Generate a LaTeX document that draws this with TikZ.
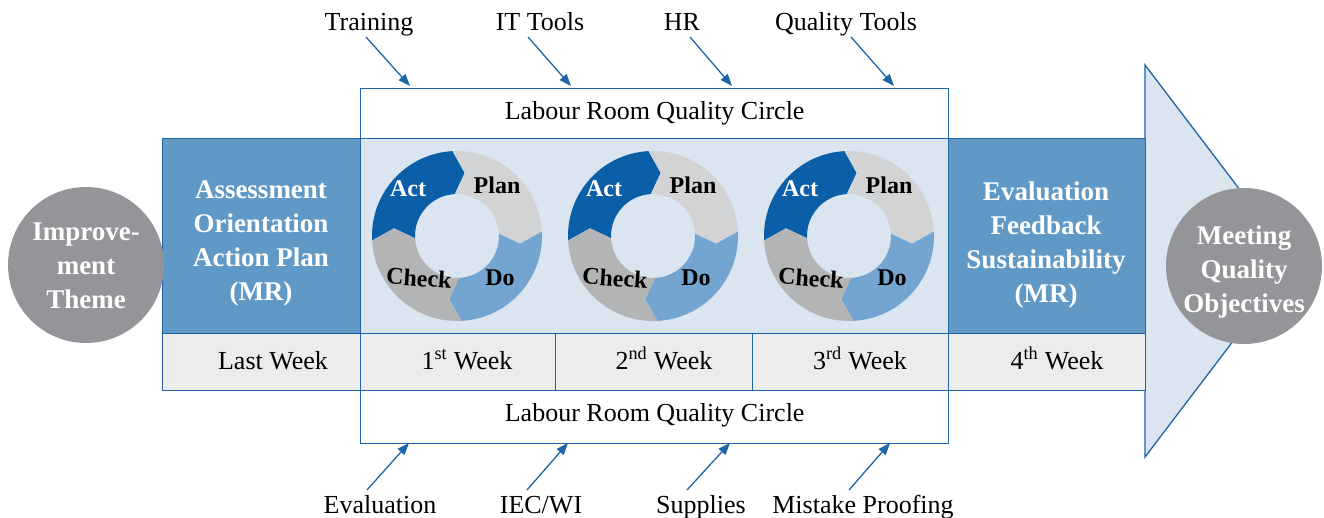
\documentclass[tikz,border=0pt]{standalone}
\usepackage{fontspec}
\setmainfont{Liberation Serif}
\usetikzlibrary{arrows.meta}
\definecolor{bordblue}{HTML}{1F64A8}
\definecolor{midblue}{HTML}{6199C6}
\definecolor{lightblue}{HTML}{DAE5F0}
\definecolor{rowgray}{HTML}{EBECEC}
\definecolor{circgray}{HTML}{939598}
\definecolor{actblue}{HTML}{0B5EA8}
\definecolor{plangray}{HTML}{D2D3D5}
\definecolor{doblue}{HTML}{74A4D0}
\definecolor{checkgray}{HTML}{B3B4B6}
\tikzset{
  frame/.style={draw=bordblue, line width=1.3pt},
  lab/.style={font=\fontsize{26}{30}\selectfont, inner sep=0pt, anchor=base},
  boxlab/.style={font=\fontsize{26}{30}\selectfont, inner sep=0pt},
  boldw/.style={font=\fontsize{27}{34}\selectfont\bfseries, text=white, align=center, inner sep=0pt},
  pdcalab/.style={font=\fontsize{24}{28}\selectfont\bfseries, inner sep=0pt},
  arr/.style={draw=bordblue, line width=1.3pt, -{Triangle[length=12pt,width=9pt]}},
  bigcirc/.style={circle, fill=circgray, minimum size=156pt, inner sep=0pt},
  pdca/.pic={
    \begin{scope}[y=1pt]
      \def\R{85}\def\r{42}\def\m{63.5}
      \fill[actblue]   (183:\R) arc[start angle=183, end angle=93, radius=\R] -- (83:\m) -- (93:\r) arc[start angle=93, end angle=183, radius=\r] -- (173:\m) -- cycle;
      \fill[plangray]  (93:\R) arc[start angle=93, end angle=3, radius=\R] -- (-7:\m) -- (3:\r) arc[start angle=3, end angle=93, radius=\r] -- (83:\m) -- cycle;
      \fill[doblue]    (3:\R) arc[start angle=3, end angle=-87, radius=\R] -- (-97:\m) -- (-87:\r) arc[start angle=-87, end angle=3, radius=\r] -- (-7:\m) -- cycle;
      \fill[checkgray] (-87:\R) arc[start angle=-87, end angle=-177, radius=\R] -- (-187:\m) -- (-177:\r) arc[start angle=-177, end angle=-87, radius=\r] -- (-97:\m) -- cycle;
      \node[pdcalab, text=white] (-act) at (-49,47) {Act};
      \node[pdcalab] (-plan) at (40,51) {Plan};
      \node[pdcalab] (-do) at (43,-42) {Do};
      \node[pdcalab, rotate=-4] (-check) at (-38,-42) {Check};
    \end{scope}
  }
}
\begin{document}
\begin{tikzpicture}[x=1pt, y=-1pt]
\useasboundingbox (0,0) rectangle (1324,518);
% arrow head
\draw[frame, fill=lightblue] (1145,65) -- (1294,261) -- (1145,457) -- cycle;
% body
\node[frame, fill=midblue, minimum width=198pt, minimum height=195pt, anchor=north west, inner sep=0pt] (leftbox) at (162,138) {};
\node[frame, fill=lightblue, minimum width=588pt, minimum height=195pt, anchor=north west, inner sep=0pt] (midbox) at (360,138) {};
\node[frame, fill=midblue, minimum width=197pt, minimum height=195pt, anchor=north west, inner sep=0pt] (rightbox) at (948,138) {};
% week row
\node[frame, fill=rowgray, minimum width=198pt, minimum height=57pt, anchor=north west, inner sep=0pt] (w0) at (162,333) {};
\node[frame, fill=rowgray, minimum width=195pt, minimum height=57pt, anchor=north west, inner sep=0pt] (w1) at (360,333) {};
\node[frame, fill=rowgray, minimum width=197pt, minimum height=57pt, anchor=north west, inner sep=0pt] (w2) at (555,333) {};
\node[frame, fill=rowgray, minimum width=196pt, minimum height=57pt, anchor=north west, inner sep=0pt] (w3) at (752,333) {};
\node[frame, fill=rowgray, minimum width=197pt, minimum height=57pt, anchor=north west, inner sep=0pt] (w4) at (948,333) {};
\node[lab] (t0) at (273,369) {Last Week};
\node[lab] (t1) at (467,369) {1\textsuperscript{st} Week};
\node[lab] (t2) at (664,369) {2\textsuperscript{nd} Week};
\node[lab] (t3) at (860,369) {3\textsuperscript{rd} Week};
\node[lab] (t4) at (1057,369) {4\textsuperscript{th} Week};
% quality circle boxes
\node[frame, fill=white, minimum width=588pt, minimum height=50pt, anchor=north west, inner sep=0pt] (topbox) at (360,88) {};
\node[boxlab] (toplab) at (topbox.center) {Labour Room Quality Circle};
\node[frame, fill=white, minimum width=588pt, minimum height=53pt, anchor=north west, inner sep=0pt] (botbox) at (360,390) {};
\node[boxlab] (botlab) at ([yshift=2pt]botbox.center) {Labour Room Quality Circle};
% box texts
\node[boldw] (assess) at (261,243) {Assessment\\Orientation\\Action Plan\\(MR)};
\node[boldw] (evalfb) at (1046,245) {Evaluation\\Feedback\\Sustainability\\(MR)};
% PDCA rings
\pic (r1) at (457,236) {pdca};
\pic (r2) at (653,236) {pdca};
\pic (r3) at (849,236) {pdca};
% circles
\node[bigcirc] (improve) at (86,265) {};
\node[boldw] (improvelab) at (86,266) {Improve-\\ment\\Theme};
\node[bigcirc] (meet) at (1244,266) {};
\node[boldw] (meetlab) at (1244,272) {Meeting\\Quality\\Objectives};
% top inputs
\node[lab] (training) at (369,31) {Training};
\node[lab] (ittools) at (540,31) {IT Tools};
\node[lab] (hr) at (682,31) {HR};
\node[lab] (qtools) at (846,31) {Quality Tools};
\coordinate (a1s) at (366,37); \coordinate (a1e) at (410,86);
\coordinate (a2s) at (528,37); \coordinate (a2e) at (571,86);
\coordinate (a3s) at (690,37); \coordinate (a3e) at (732,86);
\coordinate (a4s) at (851,37); \coordinate (a4e) at (894,86);
\draw[arr] (a1s) -- (a1e);
\draw[arr] (a2s) -- (a2e);
\draw[arr] (a3s) -- (a3e);
\draw[arr] (a4s) -- (a4e);
% bottom inputs
\node[lab] (evaluation) at (380,513) {Evaluation};
\node[lab] (iec) at (541,513) {IEC/WI};
\node[lab] (supplies) at (701,513) {Supplies};
\node[lab] (mistake) at (863,513) {Mistake Proofing};
\coordinate (b1s) at (367,490); \coordinate (b1e) at (409,443);
\coordinate (b2s) at (527,490); \coordinate (b2e) at (568,443);
\coordinate (b3s) at (687,490); \coordinate (b3e) at (730,443);
\coordinate (b4s) at (849,490); \coordinate (b4e) at (890,443);
\draw[arr] (b1s) -- (b1e);
\draw[arr] (b2s) -- (b2e);
\draw[arr] (b3s) -- (b3e);
\draw[arr] (b4s) -- (b4e);
\end{tikzpicture}
\end{document}
